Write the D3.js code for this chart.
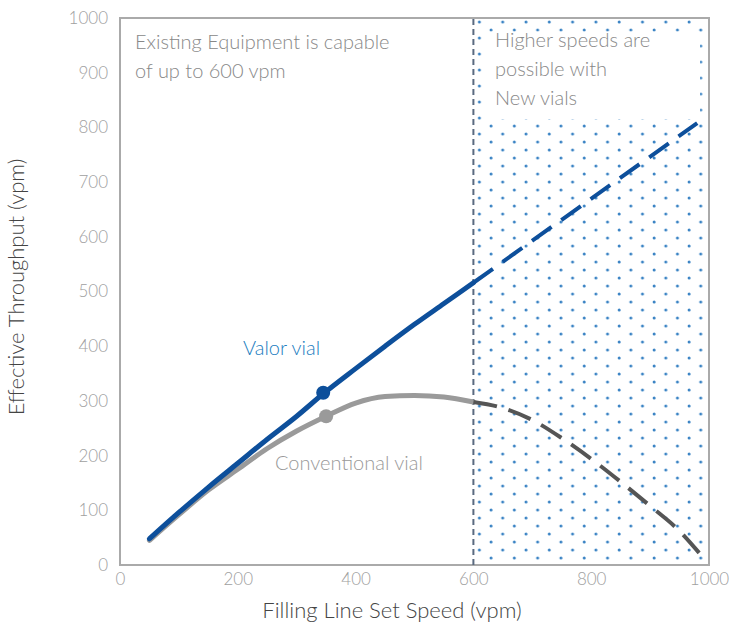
<!DOCTYPE html>
<html>
<head>
<meta charset="utf-8">
<script src="https://cdn.jsdelivr.net/npm/d3@7"></script>
<style>
  body { margin: 0; background: #fff; }
  text { font-family: Lato, "Open Sans", sans-serif; font-weight: 300; }
</style>
</head>
<body>
<svg id="chart"></svg>
<script>
var svgWidth = 732, svgHeight = 630;

// values (speed in vpm, throughput in vpm)
var valorSolid = [[50,48],[100,96],[150,142],[200,186],[250,230],[300,272],[345,313],
                  [400,359],[450,400],[500,440],[550,478],[600,516]];
var valorDashed = [[600,516],[980,808]];
var convSolid = [[50,45],[100,92],[150,137],[200,175],[250,213],[300,245],[350,272],
                 [400,296],[450,308],[500,310],[550,307],[600,298]];
var convDashed = [[600,298],[650,287],[700,265],[750,232],[800,194],[850,152],[900,108],[950,62],[985,20]];
var markers = [{x:345, y:315, c:"#0d4f9b"}, {x:350, y:272, c:"#9a9a9a"}];
var xTicks = [0,200,400,600,800,1000];
var yTicks = [0,100,200,300,400,500,600,700,800,900,1000];

var svg = d3.select("#chart")
    .attr("width", svgWidth)
    .attr("height", svgHeight);

var x = d3.scaleLinear().domain([0,1000]).range([120,709]);
var y = d3.scaleLinear().domain([0,1000]).range([565,18]);

// staggered dot pattern for the "new vials" zone
var defs = svg.append("defs");
var pat = defs.append("pattern")
    .attr("id","dots")
    .attr("patternUnits","userSpaceOnUse")
    .attr("x", x(600)).attr("y", y(1000))
    .attr("width", 23.3).attr("height", 16);
pat.selectAll("circle")
    .data([[6,4],[17.65,12]])
    .enter().append("circle")
    .attr("cx", d => d[0]).attr("cy", d => d[1]).attr("r", 1.5)
    .attr("fill", "#3a83c4");

svg.append("rect")
    .attr("x", x(600)).attr("y", y(1000))
    .attr("width", x(1000)-x(600)).attr("height", y(0)-y(1000))
    .attr("fill","url(#dots)");

// white box behind the zone text
svg.append("rect")
    .attr("x", x(615)).attr("y", y(975))
    .attr("width", x(985)-x(615)).attr("height", y(815)-y(975))
    .attr("fill","#fff");

// frame
svg.append("rect")
    .attr("x", x(0)).attr("y", y(1000))
    .attr("width", x(1000)-x(0)).attr("height", y(0)-y(1000))
    .attr("fill","none").attr("stroke","#aaa").attr("stroke-width",2);

// vertical limit at 600
svg.append("line")
    .attr("x1", x(600)).attr("x2", x(600))
    .attr("y1", y(0)).attr("y2", y(1000))
    .attr("stroke","#5a6a80").attr("stroke-width",2)
    .attr("stroke-dasharray","6,4");

// axes
var yAxis = svg.append("g")
    .attr("transform","translate(" + x(0) + ",0)")
    .call(d3.axisLeft(y).tickValues(yTicks).tickSize(0).tickPadding(12).tickFormat(d3.format("d")));
var xAxis = svg.append("g")
    .attr("transform","translate(0," + y(0) + ")")
    .call(d3.axisBottom(x).tickValues(xTicks).tickSize(0).tickPadding(8).tickFormat(d3.format("d")));
[xAxis, yAxis].forEach(function(a){
  a.select(".domain").remove();
  a.selectAll("text").attr("fill","#a0a0a0").style("font-size","17px")
    .style("font-family","Lato, 'Open Sans', sans-serif").style("font-weight","300");
});

// axis titles
svg.append("text")
    .attr("x", 392).attr("y", 618)
    .attr("text-anchor","middle")
    .attr("fill","#444").style("font-size","22px")
    .text("Filling Line Set Speed (vpm)");
svg.append("text")
    .attr("transform","translate(24,287) rotate(-90)")
    .attr("text-anchor","middle")
    .attr("fill","#444").style("font-size","22px")
    .text("Effective Throughput (vpm)");

var line = d3.line().x(d => x(d[0])).y(d => y(d[1])).curve(d3.curveMonotoneX);

svg.append("path").datum(convSolid)
    .attr("d", line).attr("fill","none")
    .attr("stroke","#9a9a9a").attr("stroke-width",5).attr("stroke-linecap","round");
svg.append("path").datum(convDashed)
    .attr("d", line).attr("fill","none")
    .attr("stroke","#555").attr("stroke-width",4)
    .attr("stroke-dasharray","24,12");
svg.append("path").datum(valorSolid)
    .attr("d", line).attr("fill","none")
    .attr("stroke","#0d4f9b").attr("stroke-width",5).attr("stroke-linecap","round")
    .attr("stroke-linejoin","round");
svg.append("path").datum(valorDashed)
    .attr("d", line).attr("fill","none")
    .attr("stroke","#0d4f9b").attr("stroke-width",4)
    .attr("stroke-dasharray","24,12");

svg.selectAll("circle.mk")
    .data(markers)
    .enter().append("circle")
    .attr("class","mk")
    .attr("cx", d => x(d.x)).attr("cy", d => y(d.y)).attr("r", 7)
    .attr("fill", d => d.c);

// labels
svg.append("text").attr("x",243).attr("y",355)
    .attr("fill","#1a7cc0").style("font-size","20px").text("Valor vial");
svg.append("text").attr("x",275).attr("y",470)
    .attr("fill","#999").style("font-size","20px").text("Conventional vial");

var noteL = ["Existing Equipment is capable","of up to 600 vpm"];
svg.selectAll("text.noteL").data(noteL).enter().append("text")
    .attr("class","noteL")
    .attr("x",135).attr("y",(d,i) => 49 + i*29)
    .attr("fill","#888").style("font-size","20px").text(d => d);

var noteR = ["Higher speeds are","possible with","New vials"];
svg.selectAll("text.noteR").data(noteR).enter().append("text")
    .attr("class","noteR")
    .attr("x",495).attr("y",(d,i) => 47 + i*29)
    .attr("fill","#888").style("font-size","20px").text(d => d);
</script>
</body>
</html>
